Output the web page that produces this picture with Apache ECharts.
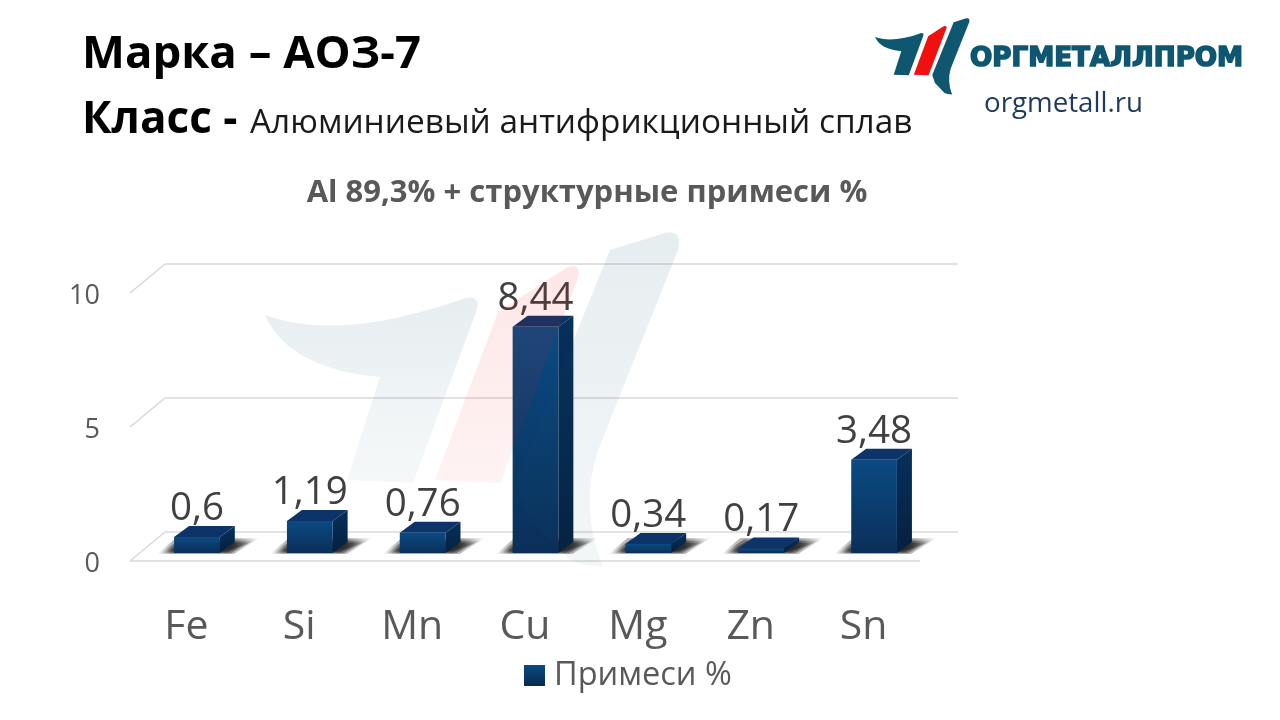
<!DOCTYPE html>
<html><head><meta charset="utf-8">
<style>html,body{margin:0;padding:0;background:#fff}#c{width:1280px;height:720px}</style>
<script src="https://cdn.jsdelivr.net/npm/echarts@6/dist/echarts.min.js"></script>
</head><body><div id="c"></div>
<script>
const categories = ['Fe','Si','Mn','Cu','Mg','Zn','Sn'];
const values = [0.6,1.19,0.76,8.44,0.34,0.17,3.48];
const valueLabels = ['0,6','1,19','0,76','8,44','0,34','0,17','3,48'];
const yTicks = [0,5,10];
const seriesName = 'Примеси %';

const FONT = '"Open Sans", sans-serif';
const DX = 35, DY = 29;
const DEPTH_X = 15, DEPTH_Y = 11, LIFT = 8, SHIFT = 10.5;
const wing = 'M265 315C320 335 390 325 465 298Q482 295 476 312L413 483L347 480L380 377C320 372 280 350 265 315Z';
const red = 'M498 312L566 268Q582 262 578 278L500 483L435 480Z';
const right = 'M610 250L665 233Q683 230 678 250L597 453Q580 510 603 567Q580 565 570 560L528 517L516 482Z';
const vGrad = (a,b) => new echarts.graphic.LinearGradient(0,0,0,1,[{offset:0,color:a},{offset:1,color:b}]);
const hGrad = stops => new echarts.graphic.LinearGradient(0,0,1,0,stops);

function mark(tx,ty,s,teal,redFill,tealTail){
  const p = (d,c)=>({type:'path',shape:{pathData:d},style:{fill:c},silent:true});
  return {type:'group',x:tx,y:ty,scaleX:s,scaleY:s,children:[p(wing,teal),p(red,redFill),p(right,tealTail)]};
}
function txt(t,x,y,size,weight,color,align){
  return {type:'text',x:x,y:y,z:20,style:{text:t,font:weight+' '+size+'px '+FONT,fill:color,textAlign:align||'left',textVerticalAlign:'middle'}};
}
const chart = echarts.init(document.getElementById('c'));
chart.setOption({
  animation:false,
  backgroundColor:'#fff',
  grid:{left:130,top:293,width:790,height:268,containLabel:false},
  xAxis:{type:'category',data:categories,axisLine:{show:false},axisTick:{show:false},
    axisLabel:{margin:46,fontSize:41,fontFamily:FONT,color:'#595959'}},
  yAxis:{type:'value',min:0,max:10,interval:5,axisLine:{show:false},axisTick:{show:false},splitLine:{show:false},
    axisLabel:{margin:30,formatter:'{a|{value}}',rich:{a:{fontSize:27,fontFamily:FONT,color:'#595959',padding:[6,0,0,0]}}}},
  legend:{left:519,top:654,itemWidth:21,itemHeight:21,itemGap:10,selectedMode:false,
    data:[{name:seriesName,icon:'rect',itemStyle:{color:vGrad('#0b4a82','#07294f')}}],
    textStyle:{fontSize:32.5,fontFamily:FONT,color:'#595959',padding:[2,0,0,4]}},
  graphic:[
    txt('Марка – АОЗ-7',82,55,45.5,'700','#000'),
    txt('Класс -',82,120,44,'700','#000'),
    txt('Алюминиевый антифрикционный сплав',250,123,33.4,'400','#1a1a1a'),
    txt('Al 89,3% + структурные примеси %',587,193,31,'700','#595959','center'),
    {type:'text',x:970,y:59,z:20,style:{text:'ОРГМЕТАЛЛПРОМ',font:'bold 26.2px "DejaVu Sans"',fill:'#0f5670',stroke:'#0f5670',lineWidth:1.6,textVerticalAlign:'middle'}},
    txt('orgmetall.ru',984,104,27.7,'400','#1f3a5f')
  ],
  series:[
    {type:'custom',name:'walls',silent:true,z:1,data:yTicks.map(v=>[v]),
      renderItem(params,api){
        const y = api.coord([0,api.value(0)])[1];
        const g = params.coordSys, ln={stroke:'#d9d9d9',lineWidth:1.5,fill:null};
        const line=(a,b,c,d)=>({type:'line',shape:{x1:a,y1:b,x2:c,y2:d},style:ln});
        const ch=[line(g.x,y,g.x+DX,y-DY),line(g.x+DX,y-DY,g.x+g.width+38,y-DY)];
        if(api.value(0)===0){ch.push(line(g.x,y,g.x+g.width,y));}
        return {type:'group',children:ch};
      }},
    {type:'custom',name:seriesName,z:3,data:values.map((v,i)=>[i,v]),encode:{x:0,y:1},
      itemStyle:{color:'#0b4a82'},
      renderItem(params,api){
        const i=api.value(0), v=api.value(1);
        const base=api.coord([i,0]), top=api.coord([i,v]);
        const w=api.size([1,0])[0]*0.405;
        const x0=base[0]+SHIFT-w/2, x1=x0+w, yb=base[1]-LIFT, yt=top[1]-LIFT;
        const poly=(pts,fill)=>({type:'polygon',shape:{points:pts},style:{fill:fill}});
        const shadow=[0.3,0.4,0.5,0.6].map((a,k)=>{
          const inset=k*1.6;
          const c=x=>'rgba(25,25,25,'+x+')';
          return poly(
            [[x0-17+inset*2,yb+1-inset*0.5],[x1+14-inset*2,yb+1-inset*0.5],[x1+40-inset*2,yb-15+inset],[x0+2+inset*2,yb-15+inset]],
            hGrad([{offset:0,color:c(0)},{offset:.14,color:c(a)},{offset:.76,color:c(a)},{offset:1,color:c(0)}]));
        });
        return {type:'group',children:[
          ...shadow,
          poly([[x1,yb],[x1+DEPTH_X,yb-DEPTH_Y],[x1+DEPTH_X,yt-DEPTH_Y],[x1,yt]],vGrad('#07305c','#05203f')),
          poly([[x0,yt],[x1,yt],[x1+DEPTH_X,yt-DEPTH_Y],[x0+DEPTH_X,yt-DEPTH_Y]],'#0c3468'),
          poly([[x0,yb],[x1,yb],[x1,yt],[x0,yt]],vGrad('#0b4a82','#0a2f59')),
          {type:'text',x:(x0+x1)/2,y:yt-DEPTH_Y-17,style:{text:valueLabels[i],font:'400 38.5px '+FONT,fill:'#404040',textAlign:'center',textVerticalAlign:'middle'}}
        ]};
      }},
    {type:'custom',name:'watermark',silent:true,z:10,data:[[0]],
      renderItem(){return mark(0,0,1,
        vGrad('rgba(15,86,112,0.1)','rgba(15,86,112,0.04)'),
        vGrad('rgba(240,16,16,0.1)','rgba(240,16,16,0.05)'),
        vGrad('rgba(15,86,112,0.1)','rgba(15,86,112,0.05)'));}},
    {type:'custom',name:'logo',silent:true,z:11,data:[[0]],
      renderItem(){return mark(814.6,-34.8,0.228,'#0f5670','#f01010','#0f5670');}}
  ]
});
</script></body></html>
